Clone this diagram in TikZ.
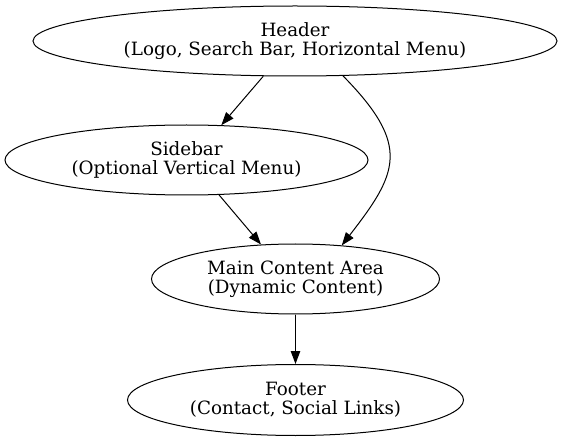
\documentclass[tikz,border=0pt]{standalone}
\usepackage{fontspec}
\setmainfont{DejaVu Serif}
\usetikzlibrary{shapes.geometric,arrows.meta}
\begin{document}
\begin{tikzpicture}[x=1pt,y=-1pt,
  gnode/.style={draw, ellipse, line width=1pt, inner sep=0pt, align=center,
    font=\fontsize{18.3}{19}\selectfont},
  gedge/.style={draw, line width=1pt, -{Triangle[length=13pt,width=9.5pt]}}]
\useasboundingbox (0,0) rectangle (563,441);
\node[gnode, minimum width=524pt, minimum height=70pt] (H) at (295,41) {Header\\(Logo, Search Bar, Horizontal Menu)};
\node[gnode, minimum width=363pt, minimum height=70pt] (S) at (186.5,160) {Sidebar\\(Optional Vertical Menu)};
\node[gnode, minimum width=288pt, minimum height=70pt] (M) at (295.5,279) {Main Content Area\\(Dynamic Content)};
\node[gnode, minimum width=336pt, minimum height=71pt] (F) at (295.5,400) {Footer\\(Contact, Social Links)};
\draw[gedge] (H.-132.4) -- (S.45.4);
\draw[gedge] (S.-47.6) -- (M.135);
\draw[gedge] (H.-36) .. controls (411.7,145.7) and (397.7,173.3) .. (M.36);
\draw[gedge] (M.south) -- (F.north);
\end{tikzpicture}
\end{document}
